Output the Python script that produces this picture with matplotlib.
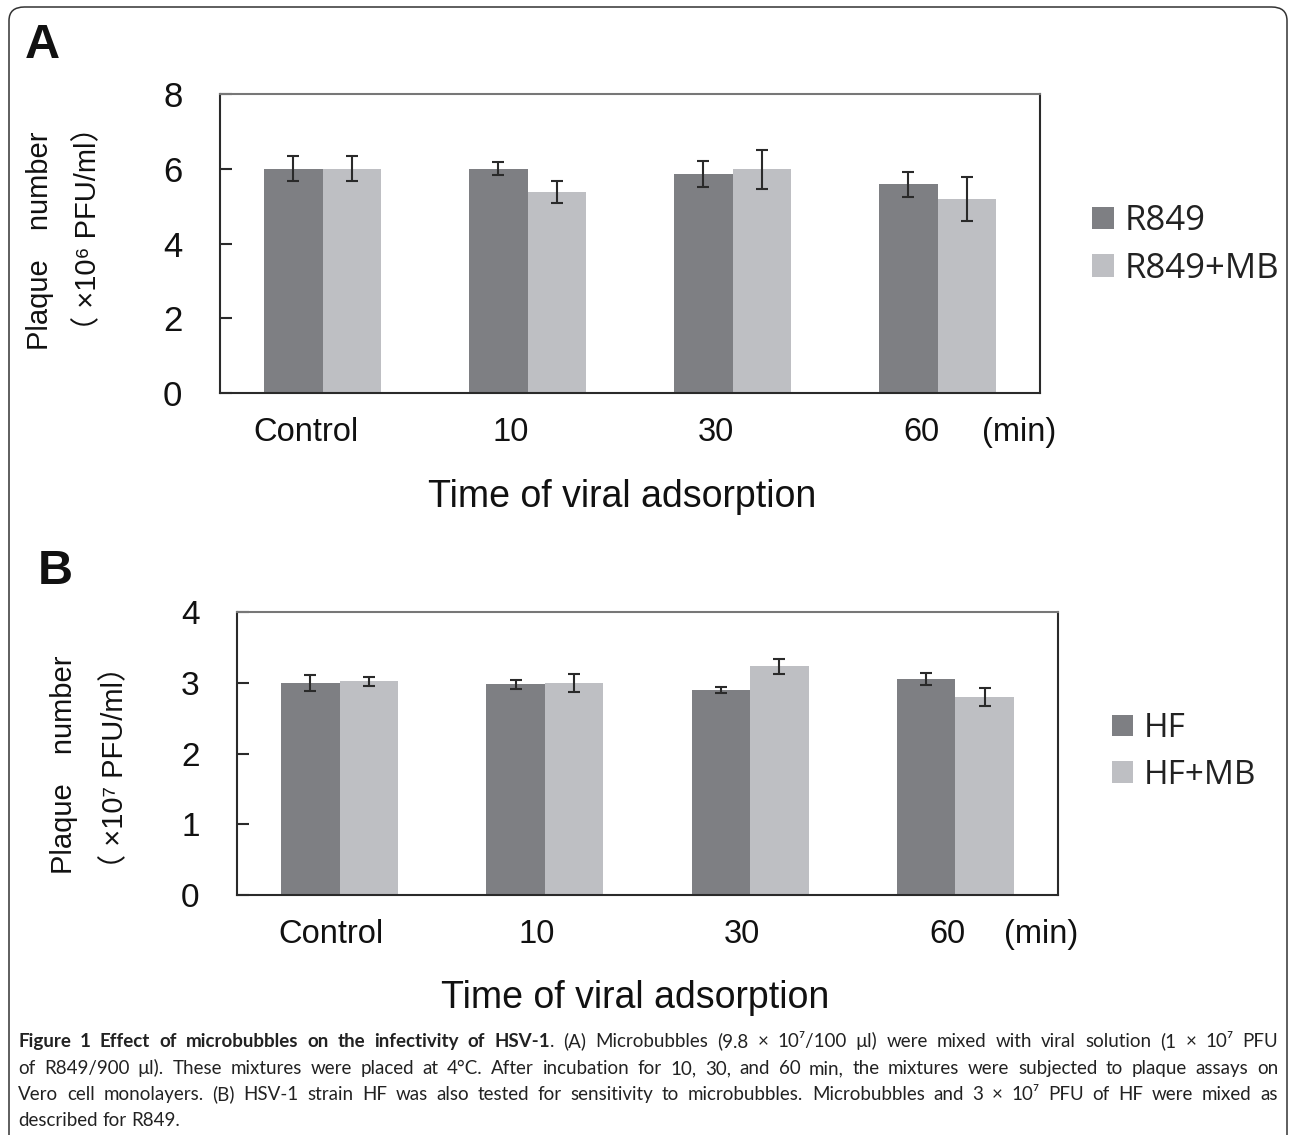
import numpy as np
import matplotlib.pyplot as plt
from matplotlib.patches import FancyBboxPatch

# values
groups = ['Control', '10', '30', '60']
r849 = [6.0, 6.0, 5.85, 5.58]
r849_err = [0.33, 0.17, 0.35, 0.33]
r849_mb = [6.0, 5.38, 5.98, 5.19]
r849_mb_err = [0.33, 0.29, 0.51, 0.59]
hf = [3.0, 2.98, 2.895, 3.05]
hf_err = [0.11, 0.064, 0.04, 0.085]
hf_mb = [3.02, 3.0, 3.23, 2.80]
hf_mb_err = [0.065, 0.13, 0.10, 0.125]

W, H = 1290, 1135
DARK = '#7e7f83'
LIGHT = '#bebfc3'
INK = '#2a2a2a'
TICK_FONT = ['Liberation Sans', 'DejaVu Sans']
JP_FONT = ['Liberation Sans', 'Noto Sans CJK JP', 'DejaVu Sans']
LEG_FONT = ['Open Sans', 'DejaVu Sans']
CAP_FONT = ['Lato', 'DejaVu Sans']

def fx(px):
    return px / W

def fy(py):
    return 1 - py / H

fig = plt.figure(figsize=(W / 100, H / 100), dpi=100)

def panel(box, a, a_err, b, b_err, ymax, yticks, names, leg_xy, leg_size,
          tick_size, label_shift, min_x):
    ax = fig.add_axes([fx(box[0]), fy(box[3]), fx(box[2] - box[0]),
                       (box[3] - box[1]) / H])
    x = np.arange(len(groups))
    w = 0.285
    ekw = dict(ecolor=INK, elinewidth=1.5, capsize=4.5, capthick=1.5)
    ax.bar(x - w / 2, a, w, yerr=a_err, color=DARK, error_kw=ekw, label=names[0])
    ax.bar(x + w / 2, b, w, yerr=b_err, color=LIGHT, error_kw=ekw, label=names[1])
    ax.set_xlim(-0.5, len(groups) - 0.5)
    ax.set_ylim(0, ymax)
    ax.set_yticks(yticks)
    ax.set_yticklabels([str(t) for t in yticks], fontsize=tick_size, family=TICK_FONT,
                       color='#111', va='center_baseline')
    ax.tick_params(axis='y', direction='in', length=8.5, width=1.5, color=INK, pad=27)
    ax.set_xticks(list(x + label_shift) + [min_x])
    ax.set_xticklabels(groups + ['(min)'], fontsize=23.5, family=TICK_FONT,
                       color='#111')
    ax.tick_params(axis='x', length=0, pad=17)
    for s in ax.spines.values():
        s.set_color(INK)
        s.set_linewidth(1.5)
    ax.spines['top'].set_color('#777')
    ax.legend(loc='center left', bbox_to_anchor=(fx(leg_xy[0]), fy(leg_xy[1])),
              bbox_transform=fig.transFigure, frameon=False, borderpad=0,
              borderaxespad=0, handlelength=0.62, handleheight=0.62,
              handletextpad=0.32, labelspacing=0.40,
              prop=dict(family=LEG_FONT, size=leg_size))
    for t in ax.get_legend().get_texts():
        t.set_color('#222')
    return ax

axA = panel((220, 94, 1040, 393), r849, r849_err, r849_mb, r849_mb_err, 8,
            [0, 2, 4, 6, 8], ['R849', 'R849+MB'], (1092, 245), 25, 25, -0.08, 3.40)
axB = panel((237, 612, 1058, 895), hf, hf_err, hf_mb, hf_mb_err, 4,
            [0, 1, 2, 3, 4], ['HF', 'HF+MB'], (1112, 752), 24, 24, -0.04, 3.42)

# axis titles
fig.text(fx(622), fy(497), 'Time of viral adsorption', ha='center', va='center',
         fontsize=27, family=TICK_FONT, color='#111')
fig.text(fx(635), fy(998), 'Time of viral adsorption', ha='center', va='center',
         fontsize=27, family=TICK_FONT, color='#111')
fig.text(fx(40), fy(241), 'Plaque\u3000number', rotation=90, ha='center', va='center',
         fontsize=21, family=JP_FONT, color='#111')
fig.text(fx(88), fy(229), '\uff08 \u00d710\u2076 PFU/ml\uff09', rotation=90,
         ha='center', va='center', fontsize=21, family=JP_FONT, color='#111')
fig.text(fx(64), fy(765), 'Plaque\u3000number', rotation=90, ha='center', va='center',
         fontsize=21, family=JP_FONT, color='#111')
fig.text(fx(115), fy(767), '\uff08 \u00d710\u2077 PFU/ml\uff09', rotation=90,
         ha='center', va='center', fontsize=21, family=JP_FONT, color='#111')

# panel letters
fig.text(fx(42), fy(45), 'A', ha='center', va='center', fontsize=35, weight='bold',
         family=TICK_FONT, color='#111')
fig.text(fx(55), fy(571), 'B', ha='center', va='center', fontsize=35, weight='bold',
         family=TICK_FONT, color='#111')

# frame round the figure
frame = FancyBboxPatch((fx(9), fy(1170)), fx(1287 - 9), (1170 - 7) / H,
                       boxstyle='round,pad=0,rounding_size=0.012',
                       transform=fig.transFigure, fill=False, ec='#333', lw=1.1)
fig.add_artist(frame)

# caption, set word by word so that the lines are justified
bold_part = 'Figure 1 Effect of microbubbles on the infectivity of HSV-1'
line1 = [[(w_, True)] for w_ in bold_part.split()]
line1[-1].append(('.', False))
line1 += [[(w_, False)] for w_ in
          '(A) Microbubbles (9.8 \u00d7 10\u2077/100 \u00b5l) were mixed with viral solution (1 \u00d7 10\u2077 PFU'.split()]
line2 = [[(w_, False)] for w_ in
         'of R849/900 \u00b5l). These mixtures were placed at 4\u00b0C. After incubation for 10, 30, and 60 min, the mixtures were subjected to plaque assays on'.split()]
line3 = [[(w_, False)] for w_ in
         'Vero cell monolayers. (B) HSV-1 strain HF was also tested for sensitivity to microbubbles. Microbubbles and 3 \u00d7 10\u2077 PFU of HF were mixed as'.split()]
line4 = [[(w_, False)] for w_ in 'described for R849.'.split()]
cap_lines = [(line1, 1047, True), (line2, 1074, True), (line3, 1100, True),
             (line4, 1126, False)]

renderer = fig.canvas.get_renderer()

def width_of(s, bold, size):
    t = fig.text(0, 0, s, fontsize=size, weight='bold' if bold else 'normal',
                 family=CAP_FONT)
    wpx = t.get_window_extent(renderer).width
    t.remove()
    return wpx

x0, x1 = 18, 1278
cap_size = 13.5
space = width_of('a b', False, cap_size) - width_of('ab', False, cap_size)
widest = 0
for words, _, _ in cap_lines:
    tot = sum(width_of(p, b, cap_size) for wd in words for p, b in wd)
    widest = max(widest, tot + space * 0.8 * (len(words) - 1))
if widest > x1 - x0:
    cap_size *= (x1 - x0) / widest
space = width_of('a b', False, cap_size) - width_of('ab', False, cap_size)

for words, base, just in cap_lines:
    widths = [[width_of(p, b, cap_size) for p, b in wd] for wd in words]
    tot = sum(sum(ws) for ws in widths)
    gap = (x1 - x0 - tot) / (len(words) - 1) if just else space
    xp = x0
    for wd, ws in zip(words, widths):
        for (p, b), wp in zip(wd, ws):
            fig.text(fx(xp), fy(base), p, fontsize=cap_size, va='baseline',
                     weight='bold' if b else 'normal', family=CAP_FONT, color='#222')
            xp += wp
        xp += gap

fig.savefig('out.png', dpi=100)
